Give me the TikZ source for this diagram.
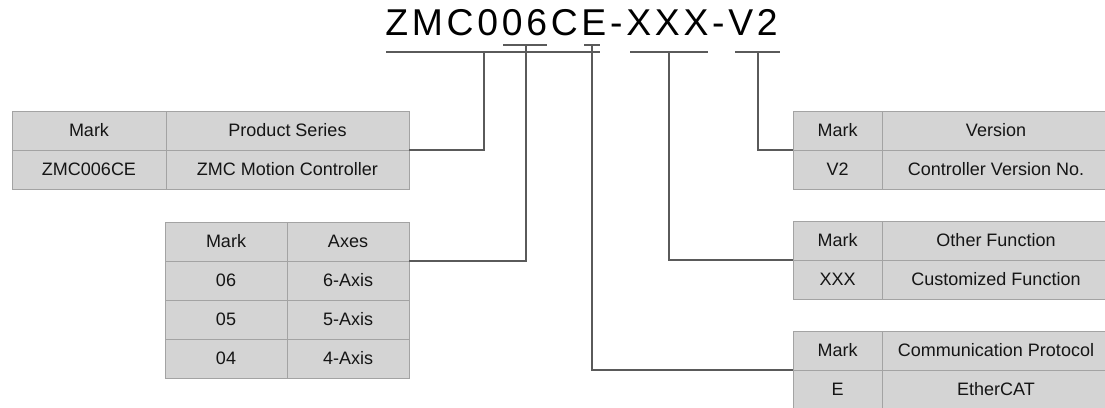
\documentclass[tikz,border=0pt]{standalone}
\usepackage{fontspec}
\setmainfont{Liberation Sans}
\usetikzlibrary{positioning}

\definecolor{cellFill}{HTML}{D4D4D4}
\definecolor{cellLine}{HTML}{A3A3A3}
\definecolor{wireGray}{HTML}{5A5A5A}
\definecolor{inkText}{HTML}{151515}

\begin{document}
\begin{tikzpicture}[
        x=0.75pt, y=-0.75pt,
        cell/.style={
            draw=cellLine,
            fill=cellFill,
            line width=0.75pt,
            minimum height=29.25pt,
            inner sep=0pt,
            outer sep=0pt,
            align=center,
            text=inkText,
            font=\fontsize{13.5}{16}\selectfont
        },
        wideMark/.style={cell, minimum width=115.5pt},
        wideInfo/.style={cell, minimum width=182.25pt},
        axisCell/.style={cell, minimum width=91.5pt},
        sideMark/.style={cell, minimum width=66.75pt},
        sideInfo/.style={cell, minimum width=171pt},
        wire/.style={
            draw=wireGray,
            line width=1.1pt
        }
    ]

        \useasboundingbox (0,0) rectangle (1105,407);

        % Model code
        \node[
            anchor=base west,
            inner sep=0pt,
            text=black,
            font=\fontsize{28}{30}\selectfont\addfontfeature{LetterSpace=10}
        ] (code) at (385,36) {ZMC006CE-XXX-V2};

        % Brackets under the code
        \draw[wire] (386,52) -- (600,52);
        \draw[wire] (630,52) -- (708,52);
        \draw[wire] (735,52) -- (780,52);
        \draw[wire] (503,45) -- (547,45);
        \draw[wire] (584,45) -- (600,45);

        \coordinate (tapSeries) at (484,52);
        \coordinate (tapAxes) at (526,45);
        \coordinate (tapProto) at (592,45);
        \coordinate (tapFunc) at (669,52);
        \coordinate (tapVer) at (758,52);

        % Product series
        \node[wideMark, anchor=north west] (seriesMark) at (12,111) {Mark};
        \node[
            wideInfo,
            right=0pt of seriesMark
        ] (seriesHead) {Product Series};
        \node[
            wideMark,
            below=0pt of seriesMark
        ] (seriesKey) {ZMC006CE};
        \node[
            wideInfo,
            right=0pt of seriesKey
        ] (seriesVal) {ZMC Motion Controller};

        % Axes
        \node[axisCell, anchor=north west] (axesMark) at (165,222) {Mark};
        \node[
            axisCell,
            right=0pt of axesMark
        ] (axesHead) {Axes};
        \node[
            axisCell,
            below=0pt of axesMark
        ] (axesKeyA) {06};
        \node[
            axisCell,
            right=0pt of axesKeyA
        ] (axesValA) {6-Axis};
        \node[
            axisCell,
            below=0pt of axesKeyA
        ] (axesKeyB) {05};
        \node[
            axisCell,
            right=0pt of axesKeyB
        ] (axesValB) {5-Axis};
        \node[
            axisCell,
            below=0pt of axesKeyB
        ] (axesKeyC) {04};
        \node[
            axisCell,
            right=0pt of axesKeyC
        ] (axesValC) {4-Axis};

        % Version
        \node[sideMark, anchor=north west] (verMark) at (793,111) {Mark};
        \node[
            sideInfo,
            right=0pt of verMark
        ] (verHead) {Version};
        \node[
            sideMark,
            below=0pt of verMark
        ] (verKey) {V2};
        \node[
            sideInfo,
            right=0pt of verKey
        ] (verVal) {Controller Version No.};

        % Other function
        \node[sideMark, anchor=north west] (funcMark) at (793,221) {Mark};
        \node[
            sideInfo,
            right=0pt of funcMark
        ] (funcHead) {Other Function};
        \node[
            sideMark,
            below=0pt of funcMark
        ] (funcKey) {XXX};
        \node[
            sideInfo,
            right=0pt of funcKey
        ] (funcVal) {Customized Function};

        % Communication protocol
        \node[sideMark, anchor=north west] (protoMark) at (793,331) {Mark};
        \node[
            sideInfo,
            right=0pt of protoMark
        ] (protoHead) {Communication Protocol};
        \node[
            sideMark,
            below=0pt of protoMark
        ] (protoKey) {E};
        \node[
            sideInfo,
            right=0pt of protoKey
        ] (protoVal) {EtherCAT};

        % Leader lines
        \draw[wire] (tapSeries) |- (seriesHead.south east);
        \draw[wire] (tapAxes) |- (axesHead.south east);
        \draw[wire] (tapProto) |- (protoMark.south west);
        \draw[wire] (tapFunc) |- (funcMark.south west);
        \draw[wire] (tapVer) |- (verMark.south west);

    \end{tikzpicture}
\end{document}
